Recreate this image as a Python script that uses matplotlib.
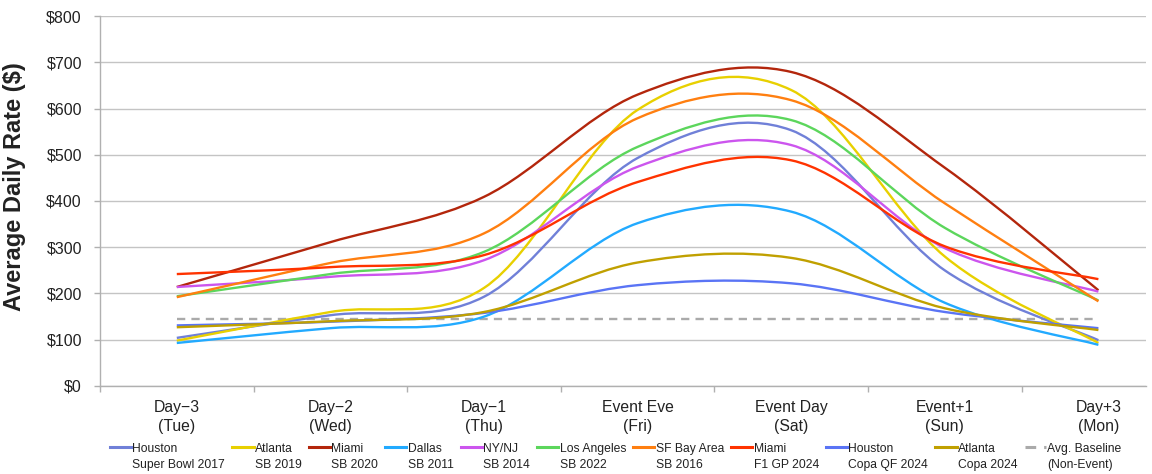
import matplotlib
matplotlib.use("Agg")
import matplotlib.pyplot as plt
from matplotlib.path import Path
from matplotlib.patches import PathPatch
from matplotlib.lines import Line2D

plt.rcParams['font.family'] = ['Liberation Sans', 'DejaVu Sans']

# categories (x axis)
days = ["Day\u22123\n(Tue)", "Day\u22122\n(Wed)", "Day\u22121\n(Thu)", "Event Eve\n(Fri)",
        "Event Day\n(Sat)", "Event+1\n(Sun)", "Day+3\n(Mon)"]

# average daily rate per event, Tue..Mon
houston_sb17 = [104, 153, 193, 493, 553, 250, 99]
atlanta_sb19 = [98, 160, 212, 597, 640, 280, 93]
miami_sb20 = [214, 311, 409, 630, 679, 472, 207]
dallas_sb11 = [93, 125, 150, 352, 377, 180, 89]
nynj_sb14 = [214, 236, 272, 474, 521, 298, 204]
la_sb22 = [194, 242, 290, 517, 575, 342, 185]
sf_sb16 = [192, 266, 330, 579, 618, 395, 183]
miami_f1 = [242, 257, 283, 441, 488, 302, 231]
houston_copa = [131, 139, 158, 218, 222, 160, 125]
atlanta_copa = [127, 140, 160, 267, 277, 168, 121]
baseline = [145, 145, 145, 145, 145, 145, 145]

series = [
    ("Houston\nSuper Bowl 2017", houston_sb17, "#7080d8"),
    ("Atlanta\nSB 2019", atlanta_sb19, "#e8d000"),
    ("Miami\nSB 2020", miami_sb20, "#b3260c"),
    ("Dallas\nSB 2011", dallas_sb11, "#22aaff"),
    ("NY/NJ\nSB 2014", nynj_sb14, "#cc55ee"),
    ("Los Angeles\nSB 2022", la_sb22, "#5cd65c"),
    ("SF Bay Area\nSB 2016", sf_sb16, "#ff7f10"),
    ("Miami\nF1 GP 2024", miami_f1, "#ff3300"),
    ("Houston\nCopa QF 2024", houston_copa, "#5a74f5"),
    ("Atlanta\nCopa 2024", atlanta_copa, "#c0a000"),
]


def smooth_path(xs, ys):
    # excel-like smoothed line, drawn as cubic bezier segments
    verts = [(xs[0], ys[0])]
    codes = [Path.MOVETO]
    n = len(xs)
    for i in range(n - 1):
        xa, ya = (xs[i - 1], ys[i - 1]) if i > 0 else (xs[i], ys[i])
        xb, yb = (xs[i + 2], ys[i + 2]) if i + 2 < n else (xs[i + 1], ys[i + 1])
        c1 = (xs[i] + (xs[i + 1] - xa) / 6, ys[i] + (ys[i + 1] - ya) / 6)
        c2 = (xs[i + 1] - (xb - xs[i]) / 6, ys[i + 1] - (yb - ys[i]) / 6)
        verts += [c1, c2, (xs[i + 1], ys[i + 1])]
        codes += [Path.CURVE4] * 3
    return Path(verts, codes)


fig = plt.figure(figsize=(11.52, 4.74), dpi=100)
ax = fig.add_axes([0.0868, 0.1857, 0.9080, 0.7805])

x = list(range(len(days)))
handles = []
for label, vals, color in series:
    ax.add_patch(PathPatch(smooth_path(x, vals), facecolor="none", edgecolor=color,
                           lw=1.7, capstyle="butt", zorder=3))
    handles.append(Line2D([], [], color=color, lw=2.2, label=label))

ax.plot(x, baseline, color="#aaaaaa", lw=1.7, linestyle=(0, (3.5, 2.6)), zorder=2)
handles.append(Line2D([], [], color="#aaaaaa", lw=2.2, linestyle=(0, (3.5, 2.6)),
                      label="Avg. Baseline\n(Non-Event)"))

ax.set_xlim(-0.5, 6.31)
ax.set_ylim(0, 800)
ax.set_yticks(range(0, 801, 100))
ax.set_yticklabels([f"${v}" for v in range(0, 801, 100)])
ax.set_xticks(x)
ax.set_xticklabels(days, linespacing=1.35)
ax.set_xticks([i - 0.5 for i in range(7)], minor=True)

ax.tick_params(axis="x", which="major", length=0, pad=10, labelsize=11.3, labelcolor="#222222")
ax.tick_params(axis="x", which="minor", length=4, color="#b0b0b0", width=1)
ax.tick_params(axis="y", length=4, color="#b0b0b0", width=1, pad=9, labelsize=11.5,
               labelcolor="#222222")

ax.grid(axis="y", color="#c4c4c4", lw=1)
ax.set_axisbelow(True)
for s in ["top", "right"]:
    ax.spines[s].set_visible(False)
for s in ["left", "bottom"]:
    ax.spines[s].set_color("#b0b0b0")
    ax.spines[s].set_linewidth(1)

ax.set_ylabel("Average Daily Rate ($)", fontsize=17, fontweight="bold", color="#222222")
ax.yaxis.set_label_coords(-0.071, 0.54)

leg = fig.legend(handles=handles, loc="upper left", bbox_to_anchor=(110 / 1152, 1 - 443 / 474),
                 ncol=11, frameon=False, fontsize=8.7, handlelength=1.75, handletextpad=0.1,
                 columnspacing=0.6, borderpad=0, borderaxespad=0, labelcolor="#222222")
for t in leg.get_texts():
    t.set_linespacing(1.45)
# put the handle next to the first line of each label
for col in leg._legend_handle_box.get_children():
    for item in col.get_children():
        item.align = "top"

fig.savefig("out.png", dpi=100)
